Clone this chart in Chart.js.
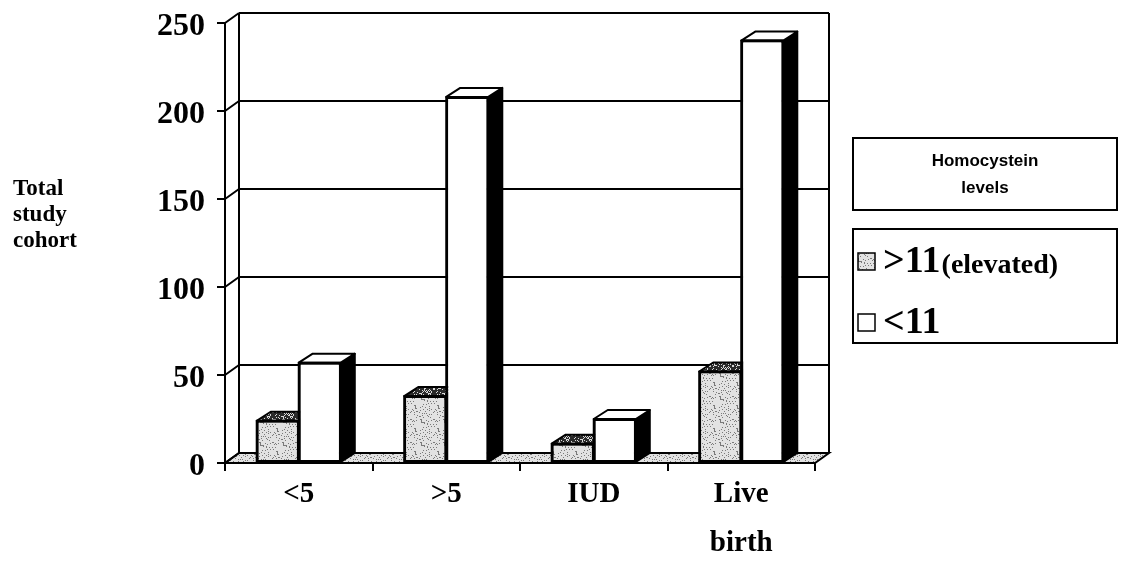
<!DOCTYPE html>
<html>
<head>
<meta charset="utf-8">
<script src="https://cdn.jsdelivr.net/npm/chart.js@4.4.0/dist/chart.umd.min.js"></script>
<style>
  html, body { margin: 0; padding: 0; background: #fff; }
  #wrap { width: 1127px; height: 577px; position: relative; }
</style>
</head>
<body>
<div id="wrap"><canvas id="c" width="1127" height="577"></canvas></div>
<script>
// Categories and values per homocysteine group
const categories = ['<5', '>5', 'IUD', ['Live', 'birth']];
const elevatedValues = [24, 38, 11, 52];
const normalValues = [57, 208, 25, 240];
const seriesLabels = ['>11', '<11'];
const seriesNotes = ['(elevated)', ''];
const yTickValues = [0, 50, 100, 150, 200, 250];
const legendTitle = ['Homocystein', 'levels'];
const axisTitle = ['Total', 'study', 'cohort'];

const SERIF = '"Liberation Serif", "Times New Roman", serif';
const SANS = '"Liberation Sans", Arial, sans-serif';

// Wall depth and bar depth offsets (pseudo-3D look)
const WALL_DX = 14, WALL_DY = 10;
const BAR_DX = 14, BAR_DY = 9;

// Stippled fills, built from a fixed dot layout
function makeStipple(base, dot, size, mod, thresh) {
  const c = document.createElement('canvas');
  c.width = size; c.height = size;
  const g = c.getContext('2d');
  g.fillStyle = base; g.fillRect(0, 0, size, size);
  g.fillStyle = dot;
  for (let j = 0; j < size; j++) {
    for (let i = 0; i < size; i++) {
      const k = (i * 131 + j * 197 + i * j * 17) % mod;
      if (k < thresh) g.fillRect(i, j, 1, 1);
    }
  }
  return g.createPattern(c, 'repeat');
}
const greyStipple = makeStipple('#e2e2e2', '#7a7a7a', 23, 53, 7);
const darkStipple = makeStipple('#2a2a2a', '#d8d8d8', 23, 53, 14);

const walls3d = {
  id: 'walls3d',
  beforeDatasetsDraw(chart) {
    const ctx = chart.ctx;
    const { left, right } = chart.chartArea;
    const y = chart.scales.y;
    const y0 = y.getPixelForValue(0);
    const yTop = y.getPixelForValue(250);
    ctx.save();
    ctx.strokeStyle = '#000';
    ctx.lineWidth = 2;
    // floor
    ctx.beginPath();
    ctx.moveTo(left, y0);
    ctx.lineTo(right, y0);
    ctx.lineTo(right + WALL_DX, y0 - WALL_DY);
    ctx.lineTo(left + WALL_DX, y0 - WALL_DY);
    ctx.closePath();
    ctx.fillStyle = greyStipple;
    ctx.fill();
    ctx.stroke();
    // back wall gridlines and left wall diagonals
    for (const v of yTickValues) {
      const py = y.getPixelForValue(v);
      ctx.beginPath();
      ctx.moveTo(left + WALL_DX, py - WALL_DY);
      ctx.lineTo(right + WALL_DX, py - WALL_DY);
      ctx.moveTo(left, py);
      ctx.lineTo(left + WALL_DX, py - WALL_DY);
      ctx.stroke();
    }
    // verticals: front-left edge, back-left corner, back-right edge
    ctx.beginPath();
    ctx.moveTo(left, yTop); ctx.lineTo(left, y0);
    ctx.moveTo(left + WALL_DX, yTop - WALL_DY); ctx.lineTo(left + WALL_DX, y0 - WALL_DY);
    ctx.moveTo(right + WALL_DX, yTop - WALL_DY); ctx.lineTo(right + WALL_DX, y0 - WALL_DY);
    ctx.stroke();
    ctx.restore();
  },
  afterDatasetsDraw(chart) {
    const ctx = chart.ctx;
    const metas = chart.data.datasets.map((d, i) => chart.getDatasetMeta(i));
    const tops = [darkStipple, '#ffffff'];
    const n = chart.data.labels.length;
    for (let i = 0; i < n; i++) {
      metas.forEach((meta, d) => {
        const bar = meta.data[i];
        const { x, y, base, width } = bar.getProps(['x', 'y', 'base', 'width'], true);
        const x0 = x - width / 2, x1 = x + width / 2;
        bar.draw(ctx);
        ctx.save();
        ctx.strokeStyle = '#000';
        ctx.lineWidth = 2;
        ctx.lineJoin = 'round';
        // side face
        ctx.beginPath();
        ctx.moveTo(x1, y);
        ctx.lineTo(x1 + BAR_DX, y - BAR_DY);
        ctx.lineTo(x1 + BAR_DX, base - BAR_DY);
        ctx.lineTo(x1, base);
        ctx.closePath();
        ctx.fillStyle = '#000';
        ctx.fill();
        ctx.stroke();
        // top face
        ctx.beginPath();
        ctx.moveTo(x0, y);
        ctx.lineTo(x0 + BAR_DX, y - BAR_DY);
        ctx.lineTo(x1 + BAR_DX, y - BAR_DY);
        ctx.lineTo(x1, y);
        ctx.closePath();
        ctx.fillStyle = tops[d];
        ctx.fill();
        ctx.stroke();
        // front outline on top
        ctx.strokeRect(x0, y, width, base - y);
        ctx.restore();
      });
    }
  },
  afterDraw(chart) {
    const ctx = chart.ctx;
    ctx.save();
    ctx.fillStyle = '#000';
    ctx.strokeStyle = '#000';
    ctx.lineWidth = 2;
    // y-axis title
    ctx.font = 'bold 23px ' + SERIF;
    ctx.textAlign = 'left';
    ctx.textBaseline = 'middle';
    axisTitle.forEach((t, k) => ctx.fillText(t, 13, 189 + k * 26));

    // legend title box
    ctx.strokeRect(853, 138, 264, 72);
    ctx.font = 'bold 17px ' + SANS;
    ctx.textAlign = 'center';
    legendTitle.forEach((t, k) => ctx.fillText(t, 985, 161 + k * 27));

    // legend entries
    ctx.strokeRect(853, 229, 264, 114);
    const ds = chart.data.datasets;
    ds.forEach((d, k) => {
      const cy = 261 + k * 61;
      ctx.fillStyle = d.backgroundColor;
      ctx.fillRect(858, cy - 8, 17, 17);
      ctx.lineWidth = 1.5;
      ctx.strokeRect(858, cy - 8, 17, 17);
      ctx.fillStyle = '#000';
      ctx.textAlign = 'left';
      ctx.font = 'bold 38px ' + SERIF;
      ctx.fillText(seriesLabels[k], 883, cy + 1);
      const w = ctx.measureText(seriesLabels[k]).width;
      if (seriesNotes[k]) {
        ctx.font = 'bold 28px ' + SERIF;
        ctx.fillText(seriesNotes[k], 883 + w + 1, cy + 5);
      }
    });
    ctx.restore();
  }
};

new Chart(document.getElementById('c'), {
  type: 'bar',
  data: {
    labels: categories,
    datasets: [
      {
        label: seriesLabels[0] + seriesNotes[0],
        data: elevatedValues,
        backgroundColor: greyStipple,
        borderColor: '#000',
        borderWidth: 2,
        borderSkipped: false
      },
      {
        label: seriesLabels[1],
        data: normalValues,
        backgroundColor: '#ffffff',
        borderColor: '#000',
        borderWidth: 2,
        borderSkipped: false
      }
    ]
  },
  options: {
    responsive: false,
    animation: false,
    devicePixelRatio: 1,
    categoryPercentage: 0.57,
    barPercentage: 1.0,
    layout: { padding: { top: 23, right: 312, left: 0, bottom: 0 } },
    plugins: { legend: { display: false }, tooltip: { enabled: false } },
    scales: {
      y: {
        min: 0,
        max: 250,
        afterFit(scale) {
          scale.width = 225;
          scale.paddingTop = 0;
          scale.paddingBottom = 0;
        },
        afterBuildTicks(scale) { scale.ticks = yTickValues.map(v => ({ value: v })); },
        ticks: {
          color: '#000',
          padding: 12,
          labelOffset: 4,
          font: { family: SERIF, size: 32, weight: 'bold' }
        },
        grid: { display: true, drawOnChartArea: false, drawTicks: true, tickLength: 8, color: '#000', lineWidth: 2 },
        border: { display: false }
      },
      x: {
        afterFit(scale) {
          scale.height = 114;
          scale.paddingLeft = 0;
          scale.paddingRight = 0;
        },
        ticks: {
          color: '#000',
          padding: -1,
          font: { family: SERIF, size: 29, weight: 'bold', lineHeight: 1.69 }
        },
        grid: { display: true, drawOnChartArea: false, drawTicks: true, tickLength: 8, color: '#000', lineWidth: 2, offset: true },
        border: { display: false }
      }
    }
  },
  plugins: [walls3d]
});
</script>
</body>
</html>
